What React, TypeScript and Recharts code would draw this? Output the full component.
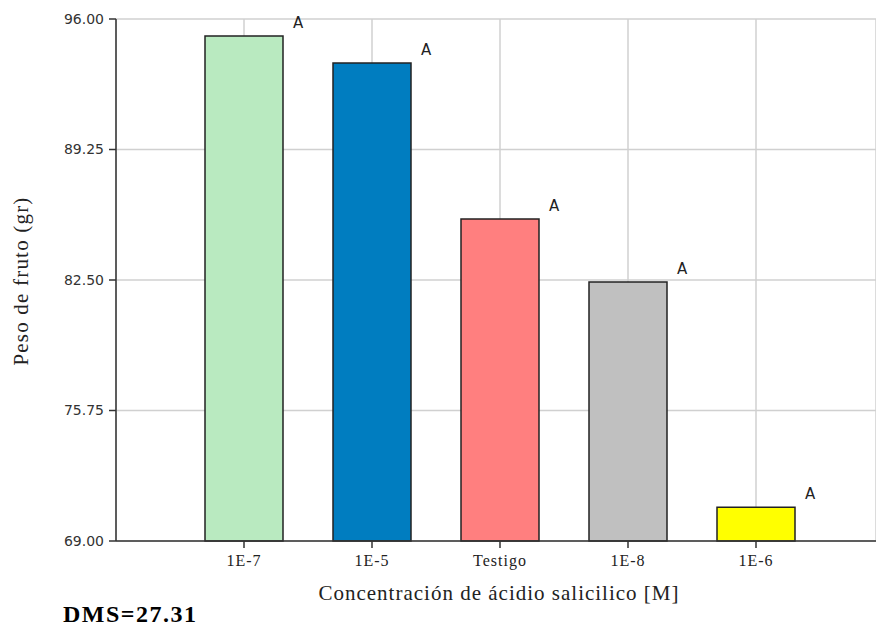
import { BarChart, Bar, XAxis, YAxis, CartesianGrid, Cell, LabelList, Label } from 'recharts';

const categories = ['1E-7', '1E-5', 'Testigo', '1E-8', '1E-6'];
const pesoFruto = [95.12, 93.72, 85.66, 82.4, 70.74];
const letras = ['A', 'A', 'A', 'A', 'A'];
const yTicks = [69, 75.75, 82.5, 89.25, 96];

const BAR_COLORS = ['#b9eac0', '#007dc0', '#ff7f7f', '#c0c0c0', '#ffff00'];

const data = categories.map((c, i) => ({ cat: c, peso: pesoFruto[i], letra: letras[i] }));

const serif = '"Liberation Serif", "Times New Roman", serif';
const sans = '"DejaVu Sans", Verdana, sans-serif';

const renderLetter = (props: any) => {
  const { x, y, width, value } = props;
  return (
    <text x={x + width + 10} y={y - 8} fontSize={15} fontFamily={sans} fill="#222">
      {value}
    </text>
  );
};

export default function App() {
  return (
    <div style={{ position: 'absolute', left: 0, top: 0, width: 876, height: 626, background: '#fff' }}>
      <BarChart width={876} height={626} data={data} margin={{ top: 19, right: 0, bottom: 0, left: 0 }}>
        <CartesianGrid stroke="#d0d0d0" strokeWidth={1.5} />
        <XAxis
          dataKey="cat"
          height={85}
          padding={{ left: 64, right: 56 }}
          tickSize={7}
          tickMargin={7}
          axisLine={{ stroke: '#333', strokeWidth: 1.5 }}
          tickLine={{ stroke: '#333', strokeWidth: 1.5 }}
          tick={{ fontSize: 16, fontFamily: serif, fill: '#222', letterSpacing: 1 }}
        >
          <Label
            content={(p: any) => {
              const vb = p.viewBox;
              return (
                <text x={vb.x + vb.width / 2 + 3} y={vb.y + 59} textAnchor="middle" fontSize={21} fontFamily={serif} fill="#222" letterSpacing={1}>
                  Concentración de ácidio salicilico [M]
                </text>
              );
            }}
          />
        </XAxis>
        <YAxis
          width={116}
          domain={[69, 96]}
          ticks={yTicks}
          interval={0}
          tickFormatter={(v: number) => v.toFixed(2)}
          tickSize={7}
          tickMargin={5}
          axisLine={{ stroke: '#333', strokeWidth: 1.5 }}
          tickLine={{ stroke: '#333', strokeWidth: 1.5 }}
          tick={{ fontSize: 14, fontFamily: sans, fill: '#333' }}
        >
          <Label
            content={(p: any) => {
              const vb = p.viewBox;
              const cx = vb.x + 28;
              const cy = vb.y + vb.height / 2 + 1;
              return (
                <text x={cx} y={cy} transform={`rotate(-90 ${cx} ${cy})`} textAnchor="middle" fontSize={21} fontFamily={serif} fill="#222" letterSpacing={1.2}>
                  Peso de fruto (gr)
                </text>
              );
            }}
          />
        </YAxis>
        <Bar dataKey="peso" barSize={78} stroke="#222" strokeWidth={1.5} isAnimationActive={false}>
          {data.map((d, i) => (
            <Cell key={d.cat} fill={BAR_COLORS[i]} />
          ))}
          <LabelList dataKey="letra" content={renderLetter} />
        </Bar>
      </BarChart>
      <div
        style={{
          position: 'absolute',
          left: 63,
          top: 601,
          fontFamily: serif,
          fontWeight: 'bold',
          fontSize: 24,
          letterSpacing: 1.5,
          color: '#000',
          lineHeight: '26px',
        }}
      >
        DMS=27.31
      </div>
    </div>
  );
}
